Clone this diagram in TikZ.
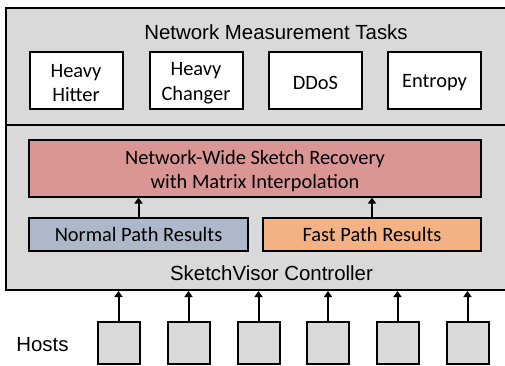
\documentclass[tikz,border=0pt]{standalone}
\usepackage{fontspec}
\setmainfont{Liberation Sans}
\newfontfamily\calibfont{Carlito}
\usetikzlibrary{arrows.meta}
\definecolor{panelgray}{HTML}{D9D9D9}
\definecolor{recpink}{HTML}{D99694}
\definecolor{normblue}{HTML}{ADB9CA}
\definecolor{fastorange}{HTML}{F4B183}
\tikzset{
  bigtext/.style={font=\fontsize{20.5}{24.6}\selectfont},
  boxtext/.style={font=\calibfont\fontsize{20.5}{24.6}\selectfont, align=center},
  inlabel/.style={label={[boxtext, yshift=-3bp]center:#1}},
  taskbox/.style={draw=black, line width=2bp, fill=white, minimum width=93bp, minimum height=57bp, inner sep=0pt},
  resbox/.style={draw=black, line width=2bp, minimum width=218bp, minimum height=33bp, inner sep=0pt, boxtext},
  hostbox/.style={draw=black, line width=2bp, fill=panelgray, minimum width=42bp, minimum height=42bp, inner sep=0pt},
  panel/.style={draw=black, line width=2bp, fill=panelgray, inner sep=0pt},
  arr/.style={line width=2bp, -{Triangle[width=8bp,length=6bp]}}
}
\begin{document}
\begin{tikzpicture}[x=1bp, y=-1bp]
\useasboundingbox (0,0) rectangle (505,365);
\clip (0,0) rectangle (505,365);
\node[panel, minimum width=505bp, minimum height=117bp] (tasks) at (258.5,66.5) {};
\node[panel, minimum width=505bp, minimum height=165bp] (ctrl) at (258.5,207.5) {};
\node[bigtext] (taskslabel) at (276,32.5) {Network Measurement Tasks};
\node[taskbox, inlabel={Heavy\\Hitter}] (hh) at (76,80) {};
\node[taskbox, inlabel={Heavy\\Changer}] (hc) at (196,80) {};
\node[taskbox, inlabel={DDoS}] (ddos) at (315.5,80) {};
\node[taskbox, inlabel={Entropy}] (ent) at (434.5,80) {};
\node[draw=black, line width=2bp, fill=recpink, minimum width=451bp, minimum height=57bp, inner sep=0pt, inlabel={Network-Wide Sketch Recovery\\with Matrix Interpolation}] (rec) at (255,168) {};
\node[resbox, fill=normblue] (norm) at (138.5,234) {Normal Path Results};
\node[resbox, fill=fastorange] (fast) at (372,234) {Fast Path Results};
\node[bigtext] (ctrllabel) at (271.5,273) {SketchVisor Controller};
\draw[arr] (norm.north) -- (rec.south -| norm.north);
\draw[arr] (fast.north) -- (rec.south -| fast.north);
\node[bigtext] (hostslabel) at (42.5,344.5) {Hosts};
\foreach \i/\x in {1/118.5,2/188.5,3/258.5,4/328,5/397.5,6/467.5}{
  \node[hostbox] (h\i) at (\x,342.5) {};
  \draw[arr] (h\i.north) -- (ctrl.south -| h\i.north);
}
\end{tikzpicture}
\end{document}
